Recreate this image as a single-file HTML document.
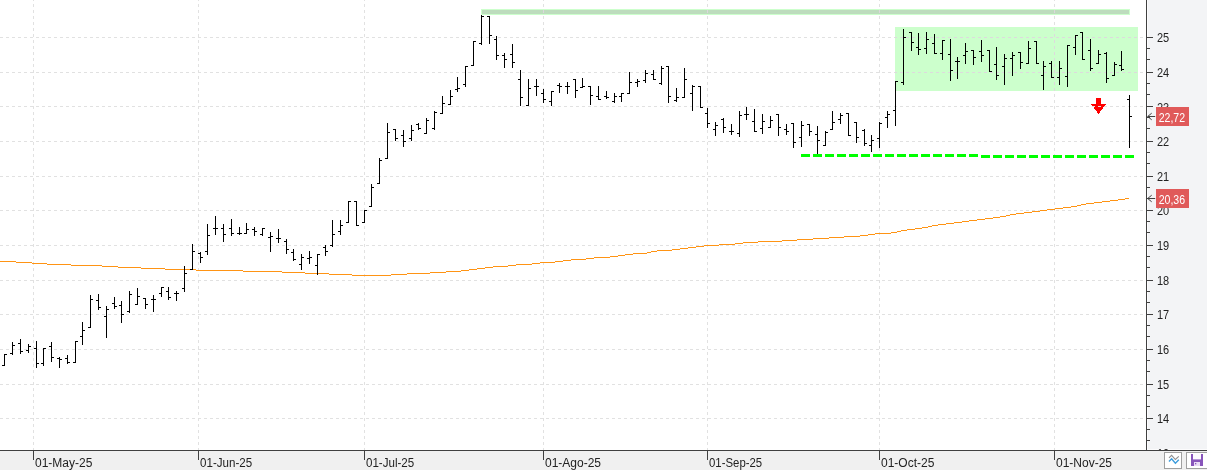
<!DOCTYPE html><html><head><meta charset="utf-8"><title>Chart</title>
<style>html,body{margin:0;padding:0;background:#fff;overflow:hidden}svg{display:block}text{font-family:"Liberation Sans",sans-serif}</style></head><body>
<svg width="1207" height="471" viewBox="0 0 1207 471">
<rect x="0" y="0" width="1207" height="471" fill="#ffffff"/>
<rect x="1147" y="0" width="60" height="450" fill="#f3f4f6"/>
<rect x="1147" y="0" width="1" height="450" fill="#fcfcfd"/><rect x="1147" y="449" width="60" height="1" fill="#fcfcfd"/>
<rect x="0" y="451" width="1207" height="19" fill="#f0f0f0"/>
<g stroke="#e1e1e1" stroke-width="1" stroke-dasharray="3 3" shape-rendering="crispEdges">
<line x1="0" y1="37.5" x2="1146" y2="37.5"/>
<line x1="0" y1="72.5" x2="1146" y2="72.5"/>
<line x1="0" y1="106.5" x2="1146" y2="106.5"/>
<line x1="0" y1="141.5" x2="1146" y2="141.5"/>
<line x1="0" y1="176.5" x2="1146" y2="176.5"/>
<line x1="0" y1="210.5" x2="1146" y2="210.5"/>
<line x1="0" y1="245.5" x2="1146" y2="245.5"/>
<line x1="0" y1="280.5" x2="1146" y2="280.5"/>
<line x1="0" y1="314.5" x2="1146" y2="314.5"/>
<line x1="0" y1="349.5" x2="1146" y2="349.5"/>
<line x1="0" y1="384.5" x2="1146" y2="384.5"/>
<line x1="0" y1="418.5" x2="1146" y2="418.5"/>
<line x1="33.5" y1="0" x2="33.5" y2="450" stroke-dashoffset="2"/>
<line x1="198.5" y1="0" x2="198.5" y2="450" stroke-dashoffset="2"/>
<line x1="364.5" y1="0" x2="364.5" y2="450" stroke-dashoffset="2"/>
<line x1="543.5" y1="0" x2="543.5" y2="450" stroke-dashoffset="2"/>
<line x1="707.5" y1="0" x2="707.5" y2="450" stroke-dashoffset="2"/>
<line x1="879.5" y1="0" x2="879.5" y2="450" stroke-dashoffset="2"/>
<line x1="1054.5" y1="0" x2="1054.5" y2="450" stroke-dashoffset="2"/>
</g>
<rect x="481" y="9" width="649" height="6" fill="#ccffcc" shape-rendering="crispEdges"/>
<rect x="482" y="10" width="647" height="4" fill="#bddcbd" shape-rendering="crispEdges"/>
<rect x="895" y="27" width="243" height="64" fill="#ccffcc"/>
<g stroke="#dddadd" stroke-width="1" stroke-dasharray="3 3" shape-rendering="crispEdges">
<line x1="895" y1="37.5" x2="897" y2="37.5" stroke-dasharray="none"/>
<line x1="900" y1="37.5" x2="1138" y2="37.5"/>
<line x1="895" y1="72.5" x2="897" y2="72.5" stroke-dasharray="none"/>
<line x1="900" y1="72.5" x2="1138" y2="72.5"/>
<line x1="1054.5" y1="28" x2="1054.5" y2="91"/>
<line x1="543.5" y1="10" x2="543.5" y2="13" stroke="#dcd6dc" stroke-dasharray="none"/>
<line x1="707.5" y1="10" x2="707.5" y2="13" stroke="#dcd6dc" stroke-dasharray="none"/>
<line x1="879.5" y1="10" x2="879.5" y2="13" stroke="#dcd6dc" stroke-dasharray="none"/>
<line x1="1054.5" y1="10" x2="1054.5" y2="13" stroke="#dcd6dc" stroke-dasharray="none"/>
</g>
<g stroke="#00ff00" stroke-width="3" stroke-dasharray="9 3" shape-rendering="crispEdges"><line x1="801" y1="155.5" x2="978" y2="155.5"/><line x1="981" y1="156.5" x2="1134" y2="156.5"/></g>
<path fill="none" stroke="#ff9414" stroke-width="1" shape-rendering="crispEdges" d="M0 261.5H16M16 262.5H32M32 263.5H47M47 264.5H71M71 265.5H102M102 266.5H118M118 267.5H141M141 268.5H165M165 269.5H196M196 270.5H243M243 271.5H282M282 272.5H305M305 273.5H329M329 274.5H352M352 275.5H391M391 274.5H407M407 273.5H430M430 272.5H446M446 271.5H461M461 270.5H469M469 269.5H477M477 268.5H485M485 267.5H493M493 266.5H508M508 265.5H516M516 264.5H532M532 263.5H540M540 262.5H555M555 261.5H563M563 260.5H571M571 259.5H586M586 258.5H594M594 257.5H610M610 256.5H618M618 255.5H625M625 254.5H633M633 253.5H647M647 252.5H651M651 251.5H657M657 250.5H672M672 249.5H680M680 248.5H688M688 247.5H696M696 246.5H704M704 245.5H719M719 244.5H735M735 243.5H743M743 242.5H758M758 241.5H782M782 240.5H797M797 239.5H813M813 238.5H829M829 237.5H844M844 236.5H860M860 235.5H868M868 234.5H875M875 233.5H891M891 232.5H897M897 231.5H901M901 230.5H907M907 229.5H915M915 228.5H922M922 227.5H928M928 226.5H932M932 225.5H938M938 224.5H946M946 223.5H954M954 222.5H962M962 221.5H969M969 220.5H977M977 219.5H985M985 218.5H993M993 217.5H1000M1000 216.5H1006M1006 215.5H1010M1010 214.5H1016M1016 213.5H1024M1024 212.5H1032M1032 211.5H1040M1040 210.5H1047M1047 209.5H1055M1055 208.5H1063M1063 207.5H1071M1071 206.5H1077M1077 205.5H1081M1081 204.5H1086M1086 203.5H1094M1094 202.5H1102M1102 201.5H1110M1110 200.5H1118M1118 199.5H1125M1125 198.5H1129"/>
<g fill="#000" shape-rendering="crispEdges">
<rect x="4" y="354" width="1" height="12"/>
<rect x="2" y="365" width="2" height="1"/>
<rect x="5" y="354" width="2" height="1"/>
<rect x="12" y="342" width="1" height="13"/>
<rect x="10" y="353" width="2" height="1"/>
<rect x="13" y="345" width="2" height="1"/>
<rect x="20" y="339" width="1" height="15"/>
<rect x="18" y="343" width="2" height="1"/>
<rect x="21" y="351" width="2" height="1"/>
<rect x="28" y="344" width="1" height="9"/>
<rect x="26" y="350" width="2" height="1"/>
<rect x="29" y="346" width="2" height="1"/>
<rect x="36" y="341" width="1" height="27"/>
<rect x="34" y="348" width="2" height="1"/>
<rect x="37" y="363" width="2" height="1"/>
<rect x="43" y="348" width="1" height="18"/>
<rect x="41" y="363" width="2" height="1"/>
<rect x="44" y="348" width="2" height="1"/>
<rect x="51" y="342" width="1" height="20"/>
<rect x="49" y="346" width="2" height="1"/>
<rect x="52" y="357" width="2" height="1"/>
<rect x="59" y="357" width="1" height="11"/>
<rect x="57" y="358" width="2" height="1"/>
<rect x="60" y="359" width="2" height="1"/>
<rect x="67" y="355" width="1" height="9"/>
<rect x="65" y="358" width="2" height="1"/>
<rect x="68" y="362" width="2" height="1"/>
<rect x="75" y="341" width="1" height="22"/>
<rect x="73" y="362" width="2" height="1"/>
<rect x="76" y="341" width="2" height="1"/>
<rect x="82" y="322" width="1" height="23"/>
<rect x="80" y="336" width="2" height="1"/>
<rect x="83" y="330" width="2" height="1"/>
<rect x="90" y="295" width="1" height="33"/>
<rect x="88" y="327" width="2" height="1"/>
<rect x="91" y="299" width="2" height="1"/>
<rect x="98" y="294" width="1" height="16"/>
<rect x="96" y="300" width="2" height="1"/>
<rect x="99" y="307" width="2" height="1"/>
<rect x="106" y="306" width="1" height="32"/>
<rect x="104" y="316" width="2" height="1"/>
<rect x="107" y="309" width="2" height="1"/>
<rect x="114" y="297" width="1" height="12"/>
<rect x="112" y="303" width="2" height="1"/>
<rect x="115" y="306" width="2" height="1"/>
<rect x="121" y="301" width="1" height="22"/>
<rect x="119" y="305" width="2" height="1"/>
<rect x="122" y="314" width="2" height="1"/>
<rect x="129" y="291" width="1" height="22"/>
<rect x="127" y="311" width="2" height="1"/>
<rect x="130" y="294" width="2" height="1"/>
<rect x="137" y="288" width="1" height="17"/>
<rect x="135" y="304" width="2" height="1"/>
<rect x="138" y="296" width="2" height="1"/>
<rect x="145" y="298" width="1" height="11"/>
<rect x="143" y="298" width="2" height="1"/>
<rect x="146" y="304" width="2" height="1"/>
<rect x="153" y="295" width="1" height="17"/>
<rect x="151" y="299" width="2" height="1"/>
<rect x="154" y="299" width="2" height="1"/>
<rect x="161" y="287" width="1" height="10"/>
<rect x="159" y="293" width="2" height="1"/>
<rect x="162" y="287" width="2" height="1"/>
<rect x="168" y="287" width="1" height="13"/>
<rect x="166" y="291" width="2" height="1"/>
<rect x="169" y="297" width="2" height="1"/>
<rect x="176" y="291" width="1" height="10"/>
<rect x="174" y="293" width="2" height="1"/>
<rect x="177" y="293" width="2" height="1"/>
<rect x="184" y="266" width="1" height="26"/>
<rect x="182" y="288" width="2" height="1"/>
<rect x="185" y="273" width="2" height="1"/>
<rect x="192" y="244" width="1" height="26"/>
<rect x="190" y="269" width="2" height="1"/>
<rect x="193" y="251" width="2" height="1"/>
<rect x="200" y="252" width="1" height="11"/>
<rect x="198" y="253" width="2" height="1"/>
<rect x="201" y="257" width="2" height="1"/>
<rect x="207" y="224" width="1" height="31"/>
<rect x="205" y="251" width="2" height="1"/>
<rect x="208" y="235" width="2" height="1"/>
<rect x="215" y="216" width="1" height="19"/>
<rect x="213" y="228" width="2" height="1"/>
<rect x="216" y="228" width="2" height="1"/>
<rect x="223" y="224" width="1" height="18"/>
<rect x="221" y="228" width="2" height="1"/>
<rect x="224" y="234" width="2" height="1"/>
<rect x="231" y="219" width="1" height="17"/>
<rect x="229" y="228" width="2" height="1"/>
<rect x="232" y="233" width="2" height="1"/>
<rect x="239" y="227" width="1" height="8"/>
<rect x="237" y="233" width="2" height="1"/>
<rect x="240" y="233" width="2" height="1"/>
<rect x="246" y="223" width="1" height="11"/>
<rect x="244" y="233" width="2" height="1"/>
<rect x="247" y="229" width="2" height="1"/>
<rect x="254" y="227" width="1" height="9"/>
<rect x="252" y="229" width="2" height="1"/>
<rect x="255" y="231" width="2" height="1"/>
<rect x="262" y="228" width="1" height="8"/>
<rect x="260" y="234" width="2" height="1"/>
<rect x="263" y="228" width="2" height="1"/>
<rect x="270" y="232" width="1" height="20"/>
<rect x="268" y="237" width="2" height="1"/>
<rect x="271" y="236" width="2" height="1"/>
<rect x="278" y="229" width="1" height="14"/>
<rect x="276" y="238" width="2" height="1"/>
<rect x="279" y="238" width="2" height="1"/>
<rect x="286" y="239" width="1" height="15"/>
<rect x="284" y="241" width="2" height="1"/>
<rect x="287" y="249" width="2" height="1"/>
<rect x="293" y="249" width="1" height="12"/>
<rect x="291" y="252" width="2" height="1"/>
<rect x="294" y="259" width="2" height="1"/>
<rect x="301" y="254" width="1" height="16"/>
<rect x="299" y="264" width="2" height="1"/>
<rect x="302" y="257" width="2" height="1"/>
<rect x="309" y="251" width="1" height="13"/>
<rect x="307" y="258" width="2" height="1"/>
<rect x="310" y="257" width="2" height="1"/>
<rect x="317" y="254" width="1" height="21"/>
<rect x="315" y="265" width="2" height="1"/>
<rect x="318" y="254" width="2" height="1"/>
<rect x="325" y="245" width="1" height="11"/>
<rect x="323" y="247" width="2" height="1"/>
<rect x="326" y="251" width="2" height="1"/>
<rect x="332" y="220" width="1" height="27"/>
<rect x="330" y="245" width="2" height="1"/>
<rect x="333" y="234" width="2" height="1"/>
<rect x="340" y="220" width="1" height="15"/>
<rect x="338" y="231" width="2" height="1"/>
<rect x="341" y="225" width="2" height="1"/>
<rect x="348" y="201" width="1" height="22"/>
<rect x="346" y="222" width="2" height="1"/>
<rect x="349" y="201" width="2" height="1"/>
<rect x="356" y="201" width="1" height="25"/>
<rect x="354" y="201" width="2" height="1"/>
<rect x="357" y="225" width="2" height="1"/>
<rect x="364" y="210" width="1" height="13"/>
<rect x="362" y="222" width="2" height="1"/>
<rect x="365" y="210" width="2" height="1"/>
<rect x="371" y="184" width="1" height="23"/>
<rect x="369" y="206" width="2" height="1"/>
<rect x="372" y="187" width="2" height="1"/>
<rect x="379" y="158" width="1" height="26"/>
<rect x="377" y="183" width="2" height="1"/>
<rect x="380" y="160" width="2" height="1"/>
<rect x="387" y="123" width="1" height="36"/>
<rect x="385" y="158" width="2" height="1"/>
<rect x="388" y="132" width="2" height="1"/>
<rect x="395" y="129" width="1" height="12"/>
<rect x="393" y="129" width="2" height="1"/>
<rect x="396" y="138" width="2" height="1"/>
<rect x="403" y="130" width="1" height="17"/>
<rect x="401" y="135" width="2" height="1"/>
<rect x="404" y="141" width="2" height="1"/>
<rect x="411" y="125" width="1" height="16"/>
<rect x="409" y="138" width="2" height="1"/>
<rect x="412" y="130" width="2" height="1"/>
<rect x="418" y="123" width="1" height="7"/>
<rect x="416" y="124" width="2" height="1"/>
<rect x="419" y="128" width="2" height="1"/>
<rect x="426" y="118" width="1" height="16"/>
<rect x="424" y="133" width="2" height="1"/>
<rect x="427" y="120" width="2" height="1"/>
<rect x="434" y="111" width="1" height="19"/>
<rect x="432" y="128" width="2" height="1"/>
<rect x="435" y="112" width="2" height="1"/>
<rect x="442" y="96" width="1" height="18"/>
<rect x="440" y="113" width="2" height="1"/>
<rect x="443" y="103" width="2" height="1"/>
<rect x="450" y="90" width="1" height="15"/>
<rect x="448" y="104" width="2" height="1"/>
<rect x="451" y="96" width="2" height="1"/>
<rect x="457" y="77" width="1" height="15"/>
<rect x="455" y="89" width="2" height="1"/>
<rect x="458" y="88" width="2" height="1"/>
<rect x="465" y="66" width="1" height="21"/>
<rect x="463" y="84" width="2" height="1"/>
<rect x="466" y="66" width="2" height="1"/>
<rect x="473" y="41" width="1" height="25"/>
<rect x="471" y="65" width="2" height="1"/>
<rect x="474" y="41" width="2" height="1"/>
<rect x="481" y="15" width="1" height="30"/>
<rect x="479" y="43" width="2" height="1"/>
<rect x="482" y="16" width="2" height="1"/>
<rect x="489" y="16" width="1" height="28"/>
<rect x="487" y="16" width="2" height="1"/>
<rect x="490" y="35" width="2" height="1"/>
<rect x="496" y="36" width="1" height="24"/>
<rect x="494" y="39" width="2" height="1"/>
<rect x="497" y="55" width="2" height="1"/>
<rect x="504" y="53" width="1" height="15"/>
<rect x="502" y="55" width="2" height="1"/>
<rect x="505" y="59" width="2" height="1"/>
<rect x="512" y="44" width="1" height="24"/>
<rect x="510" y="54" width="2" height="1"/>
<rect x="513" y="62" width="2" height="1"/>
<rect x="520" y="70" width="1" height="36"/>
<rect x="518" y="79" width="2" height="1"/>
<rect x="521" y="97" width="2" height="1"/>
<rect x="528" y="79" width="1" height="27"/>
<rect x="526" y="105" width="2" height="1"/>
<rect x="529" y="88" width="2" height="1"/>
<rect x="536" y="79" width="1" height="17"/>
<rect x="534" y="86" width="2" height="1"/>
<rect x="537" y="86" width="2" height="1"/>
<rect x="543" y="89" width="1" height="14"/>
<rect x="541" y="93" width="2" height="1"/>
<rect x="544" y="99" width="2" height="1"/>
<rect x="551" y="91" width="1" height="15"/>
<rect x="549" y="101" width="2" height="1"/>
<rect x="552" y="91" width="2" height="1"/>
<rect x="559" y="83" width="1" height="10"/>
<rect x="557" y="85" width="2" height="1"/>
<rect x="560" y="86" width="2" height="1"/>
<rect x="567" y="82" width="1" height="12"/>
<rect x="565" y="86" width="2" height="1"/>
<rect x="568" y="86" width="2" height="1"/>
<rect x="575" y="79" width="1" height="19"/>
<rect x="573" y="79" width="2" height="1"/>
<rect x="576" y="90" width="2" height="1"/>
<rect x="582" y="78" width="1" height="10"/>
<rect x="580" y="87" width="2" height="1"/>
<rect x="583" y="86" width="2" height="1"/>
<rect x="590" y="86" width="1" height="19"/>
<rect x="588" y="86" width="2" height="1"/>
<rect x="591" y="95" width="2" height="1"/>
<rect x="598" y="86" width="1" height="14"/>
<rect x="596" y="96" width="2" height="1"/>
<rect x="599" y="99" width="2" height="1"/>
<rect x="606" y="91" width="1" height="8"/>
<rect x="604" y="96" width="2" height="1"/>
<rect x="607" y="97" width="2" height="1"/>
<rect x="614" y="93" width="1" height="10"/>
<rect x="612" y="101" width="2" height="1"/>
<rect x="615" y="96" width="2" height="1"/>
<rect x="621" y="93" width="1" height="9"/>
<rect x="619" y="96" width="2" height="1"/>
<rect x="622" y="93" width="2" height="1"/>
<rect x="629" y="72" width="1" height="22"/>
<rect x="627" y="93" width="2" height="1"/>
<rect x="630" y="82" width="2" height="1"/>
<rect x="637" y="79" width="1" height="8"/>
<rect x="635" y="82" width="2" height="1"/>
<rect x="638" y="81" width="2" height="1"/>
<rect x="645" y="70" width="1" height="13"/>
<rect x="643" y="80" width="2" height="1"/>
<rect x="646" y="73" width="2" height="1"/>
<rect x="653" y="70" width="1" height="10"/>
<rect x="651" y="74" width="2" height="1"/>
<rect x="654" y="79" width="2" height="1"/>
<rect x="661" y="66" width="1" height="19"/>
<rect x="659" y="83" width="2" height="1"/>
<rect x="662" y="68" width="2" height="1"/>
<rect x="668" y="66" width="1" height="37"/>
<rect x="666" y="66" width="2" height="1"/>
<rect x="669" y="96" width="2" height="1"/>
<rect x="676" y="88" width="1" height="14"/>
<rect x="674" y="100" width="2" height="1"/>
<rect x="677" y="97" width="2" height="1"/>
<rect x="684" y="68" width="1" height="30"/>
<rect x="682" y="97" width="2" height="1"/>
<rect x="685" y="79" width="2" height="1"/>
<rect x="692" y="85" width="1" height="26"/>
<rect x="690" y="93" width="2" height="1"/>
<rect x="693" y="86" width="2" height="1"/>
<rect x="700" y="86" width="1" height="22"/>
<rect x="698" y="86" width="2" height="1"/>
<rect x="701" y="107" width="2" height="1"/>
<rect x="707" y="108" width="1" height="20"/>
<rect x="705" y="113" width="2" height="1"/>
<rect x="708" y="123" width="2" height="1"/>
<rect x="715" y="122" width="1" height="14"/>
<rect x="713" y="129" width="2" height="1"/>
<rect x="716" y="125" width="2" height="1"/>
<rect x="723" y="118" width="1" height="15"/>
<rect x="721" y="119" width="2" height="1"/>
<rect x="724" y="127" width="2" height="1"/>
<rect x="731" y="124" width="1" height="11"/>
<rect x="729" y="131" width="2" height="1"/>
<rect x="732" y="131" width="2" height="1"/>
<rect x="739" y="111" width="1" height="26"/>
<rect x="737" y="133" width="2" height="1"/>
<rect x="740" y="115" width="2" height="1"/>
<rect x="746" y="107" width="1" height="13"/>
<rect x="744" y="114" width="2" height="1"/>
<rect x="747" y="114" width="2" height="1"/>
<rect x="754" y="109" width="1" height="23"/>
<rect x="752" y="121" width="2" height="1"/>
<rect x="755" y="131" width="2" height="1"/>
<rect x="762" y="114" width="1" height="20"/>
<rect x="760" y="128" width="2" height="1"/>
<rect x="763" y="121" width="2" height="1"/>
<rect x="770" y="116" width="1" height="12"/>
<rect x="768" y="127" width="2" height="1"/>
<rect x="771" y="120" width="2" height="1"/>
<rect x="778" y="114" width="1" height="22"/>
<rect x="776" y="114" width="2" height="1"/>
<rect x="779" y="127" width="2" height="1"/>
<rect x="786" y="124" width="1" height="11"/>
<rect x="784" y="129" width="2" height="1"/>
<rect x="787" y="131" width="2" height="1"/>
<rect x="793" y="123" width="1" height="25"/>
<rect x="791" y="123" width="2" height="1"/>
<rect x="794" y="142" width="2" height="1"/>
<rect x="801" y="121" width="1" height="26"/>
<rect x="799" y="137" width="2" height="1"/>
<rect x="802" y="125" width="2" height="1"/>
<rect x="809" y="124" width="1" height="12"/>
<rect x="807" y="124" width="2" height="1"/>
<rect x="810" y="131" width="2" height="1"/>
<rect x="817" y="126" width="1" height="28"/>
<rect x="815" y="134" width="2" height="1"/>
<rect x="818" y="140" width="2" height="1"/>
<rect x="825" y="131" width="1" height="15"/>
<rect x="823" y="145" width="2" height="1"/>
<rect x="826" y="132" width="2" height="1"/>
<rect x="832" y="111" width="1" height="19"/>
<rect x="830" y="129" width="2" height="1"/>
<rect x="833" y="122" width="2" height="1"/>
<rect x="840" y="113" width="1" height="11"/>
<rect x="838" y="119" width="2" height="1"/>
<rect x="841" y="115" width="2" height="1"/>
<rect x="848" y="113" width="1" height="23"/>
<rect x="846" y="113" width="2" height="1"/>
<rect x="849" y="135" width="2" height="1"/>
<rect x="856" y="122" width="1" height="21"/>
<rect x="854" y="122" width="2" height="1"/>
<rect x="857" y="137" width="2" height="1"/>
<rect x="864" y="129" width="1" height="17"/>
<rect x="862" y="130" width="2" height="1"/>
<rect x="865" y="143" width="2" height="1"/>
<rect x="871" y="135" width="1" height="17"/>
<rect x="869" y="145" width="2" height="1"/>
<rect x="872" y="140" width="2" height="1"/>
<rect x="879" y="122" width="1" height="26"/>
<rect x="877" y="138" width="2" height="1"/>
<rect x="880" y="123" width="2" height="1"/>
<rect x="887" y="111" width="1" height="17"/>
<rect x="885" y="117" width="2" height="1"/>
<rect x="888" y="114" width="2" height="1"/>
<rect x="895" y="81" width="1" height="45"/>
<rect x="893" y="110" width="2" height="1"/>
<rect x="896" y="81" width="2" height="1"/>
<rect x="903" y="29" width="1" height="56"/>
<rect x="901" y="82" width="2" height="1"/>
<rect x="904" y="37" width="2" height="1"/>
<rect x="911" y="32" width="1" height="19"/>
<rect x="909" y="32" width="2" height="1"/>
<rect x="912" y="42" width="2" height="1"/>
<rect x="918" y="33" width="1" height="22"/>
<rect x="916" y="47" width="2" height="1"/>
<rect x="919" y="49" width="2" height="1"/>
<rect x="926" y="32" width="1" height="22"/>
<rect x="924" y="48" width="2" height="1"/>
<rect x="927" y="39" width="2" height="1"/>
<rect x="934" y="34" width="1" height="20"/>
<rect x="932" y="43" width="2" height="1"/>
<rect x="935" y="53" width="2" height="1"/>
<rect x="942" y="40" width="1" height="20"/>
<rect x="940" y="53" width="2" height="1"/>
<rect x="943" y="40" width="2" height="1"/>
<rect x="950" y="39" width="1" height="42"/>
<rect x="948" y="54" width="2" height="1"/>
<rect x="951" y="70" width="2" height="1"/>
<rect x="957" y="57" width="1" height="22"/>
<rect x="955" y="61" width="2" height="1"/>
<rect x="958" y="61" width="2" height="1"/>
<rect x="965" y="43" width="1" height="21"/>
<rect x="963" y="55" width="2" height="1"/>
<rect x="966" y="51" width="2" height="1"/>
<rect x="973" y="50" width="1" height="15"/>
<rect x="971" y="50" width="2" height="1"/>
<rect x="974" y="57" width="2" height="1"/>
<rect x="981" y="40" width="1" height="22"/>
<rect x="979" y="51" width="2" height="1"/>
<rect x="982" y="55" width="2" height="1"/>
<rect x="989" y="50" width="1" height="22"/>
<rect x="987" y="50" width="2" height="1"/>
<rect x="990" y="71" width="2" height="1"/>
<rect x="996" y="47" width="1" height="33"/>
<rect x="994" y="64" width="2" height="1"/>
<rect x="997" y="75" width="2" height="1"/>
<rect x="1004" y="54" width="1" height="31"/>
<rect x="1002" y="66" width="2" height="1"/>
<rect x="1005" y="58" width="2" height="1"/>
<rect x="1012" y="52" width="1" height="24"/>
<rect x="1010" y="58" width="2" height="1"/>
<rect x="1013" y="55" width="2" height="1"/>
<rect x="1020" y="52" width="1" height="17"/>
<rect x="1018" y="52" width="2" height="1"/>
<rect x="1021" y="62" width="2" height="1"/>
<rect x="1028" y="41" width="1" height="23"/>
<rect x="1026" y="63" width="2" height="1"/>
<rect x="1029" y="48" width="2" height="1"/>
<rect x="1036" y="41" width="1" height="23"/>
<rect x="1034" y="41" width="2" height="1"/>
<rect x="1037" y="63" width="2" height="1"/>
<rect x="1043" y="61" width="1" height="29"/>
<rect x="1041" y="75" width="2" height="1"/>
<rect x="1044" y="66" width="2" height="1"/>
<rect x="1051" y="61" width="1" height="17"/>
<rect x="1049" y="63" width="2" height="1"/>
<rect x="1052" y="77" width="2" height="1"/>
<rect x="1059" y="61" width="1" height="24"/>
<rect x="1057" y="77" width="2" height="1"/>
<rect x="1060" y="68" width="2" height="1"/>
<rect x="1067" y="45" width="1" height="42"/>
<rect x="1065" y="76" width="2" height="1"/>
<rect x="1068" y="45" width="2" height="1"/>
<rect x="1075" y="35" width="1" height="20"/>
<rect x="1073" y="47" width="2" height="1"/>
<rect x="1076" y="35" width="2" height="1"/>
<rect x="1082" y="32" width="1" height="28"/>
<rect x="1080" y="32" width="2" height="1"/>
<rect x="1083" y="59" width="2" height="1"/>
<rect x="1090" y="39" width="1" height="32"/>
<rect x="1088" y="50" width="2" height="1"/>
<rect x="1091" y="68" width="2" height="1"/>
<rect x="1098" y="50" width="1" height="14"/>
<rect x="1096" y="63" width="2" height="1"/>
<rect x="1099" y="54" width="2" height="1"/>
<rect x="1106" y="52" width="1" height="31"/>
<rect x="1104" y="53" width="2" height="1"/>
<rect x="1107" y="78" width="2" height="1"/>
<rect x="1114" y="62" width="1" height="14"/>
<rect x="1112" y="75" width="2" height="1"/>
<rect x="1115" y="64" width="2" height="1"/>
<rect x="1121" y="51" width="1" height="20"/>
<rect x="1119" y="65" width="2" height="1"/>
<rect x="1122" y="69" width="2" height="1"/>
<rect x="1129" y="95" width="1" height="53"/>
<rect x="1127" y="99" width="2" height="1"/>
<rect x="1130" y="116" width="2" height="1"/>
</g>
<path d="M1096 98h5v6h5l-7.5 10l-7.5-10h5z" fill="#ff0000" shape-rendering="crispEdges"/>
<rect x="1092" y="106" width="3" height="1" fill="#e4e4e4"/><rect x="1098" y="106" width="3" height="1" fill="#e4e4e4"/>
<g fill="#404040" shape-rendering="crispEdges">
<rect x="1146" y="0" width="1" height="451"/>
<rect x="0" y="450" width="1207" height="1"/>
<rect x="1147" y="37" width="6" height="1"/>
<rect x="1147" y="48" width="3" height="1"/>
<rect x="1147" y="59" width="3" height="1"/>
<rect x="1147" y="72" width="6" height="1"/>
<rect x="1147" y="83" width="3" height="1"/>
<rect x="1147" y="94" width="3" height="1"/>
<rect x="1147" y="106" width="6" height="1"/>
<rect x="1147" y="117" width="3" height="1"/>
<rect x="1147" y="128" width="3" height="1"/>
<rect x="1147" y="141" width="6" height="1"/>
<rect x="1147" y="152" width="3" height="1"/>
<rect x="1147" y="163" width="3" height="1"/>
<rect x="1147" y="176" width="6" height="1"/>
<rect x="1147" y="187" width="3" height="1"/>
<rect x="1147" y="198" width="3" height="1"/>
<rect x="1147" y="210" width="6" height="1"/>
<rect x="1147" y="221" width="3" height="1"/>
<rect x="1147" y="232" width="3" height="1"/>
<rect x="1147" y="245" width="6" height="1"/>
<rect x="1147" y="256" width="3" height="1"/>
<rect x="1147" y="267" width="3" height="1"/>
<rect x="1147" y="280" width="6" height="1"/>
<rect x="1147" y="291" width="3" height="1"/>
<rect x="1147" y="302" width="3" height="1"/>
<rect x="1147" y="314" width="6" height="1"/>
<rect x="1147" y="325" width="3" height="1"/>
<rect x="1147" y="336" width="3" height="1"/>
<rect x="1147" y="349" width="6" height="1"/>
<rect x="1147" y="360" width="3" height="1"/>
<rect x="1147" y="371" width="3" height="1"/>
<rect x="1147" y="384" width="6" height="1"/>
<rect x="1147" y="395" width="3" height="1"/>
<rect x="1147" y="406" width="3" height="1"/>
<rect x="1147" y="418" width="6" height="1"/>
<rect x="1147" y="429" width="3" height="1"/>
<rect x="1147" y="440" width="3" height="1"/>
<rect x="33" y="451" width="1" height="9"/>
<rect x="198" y="451" width="1" height="9"/>
<rect x="364" y="451" width="1" height="9"/>
<rect x="543" y="451" width="1" height="9"/>
<rect x="707" y="451" width="1" height="9"/>
<rect x="879" y="451" width="1" height="9"/>
<rect x="1054" y="451" width="1" height="9"/>
</g>
<g font-size="12.5px" fill="#222">
<text transform="translate(1157 42.2) scale(0.88 1)">25</text>
<text transform="translate(1157 76.8) scale(0.88 1)">24</text>
<text transform="translate(1157 111.5) scale(0.88 1)">23</text>
<text transform="translate(1157 146.1) scale(0.88 1)">22</text>
<text transform="translate(1157 180.8) scale(0.88 1)">21</text>
<text transform="translate(1157 215.4) scale(0.88 1)">20</text>
<text transform="translate(1157 250.0) scale(0.88 1)">19</text>
<text transform="translate(1157 284.7) scale(0.88 1)">18</text>
<text transform="translate(1157 319.3) scale(0.88 1)">17</text>
<text transform="translate(1157 354.0) scale(0.88 1)">16</text>
<text transform="translate(1157 388.6) scale(0.88 1)">15</text>
<text transform="translate(1157 423.2) scale(0.88 1)">14</text>
<clipPath id="c13"><rect x="1147" y="440" width="60" height="10"/></clipPath>
<g clip-path="url(#c13)"><text transform="translate(1157 457.9) scale(0.88 1)">13</text></g>
</g>
<g font-size="12px" fill="#222">
<text transform="translate(35 466.5) scale(1 1)">01-May-25</text>
<text transform="translate(200 466.5) scale(0.966 1)">01-Jun-25</text>
<text transform="translate(366 466.5) scale(0.965 1)">01-Jul-25</text>
<text transform="translate(545 466.5) scale(1 1)">01-Ago-25</text>
<text transform="translate(709 466.5) scale(0.95 1)">01-Sep-25</text>
<text transform="translate(881 466.5) scale(1 1)">01-Oct-25</text>
<text transform="translate(1056 466.5) scale(1 1)">01-Nov-25</text>
</g>
<rect x="1156" y="107.0" width="33" height="19" fill="#e05a5a"/>
<text transform="translate(1158.7 121.7) scale(0.88 1)" font-size="12px" fill="#fff">22,72</text>
<path d="M1147.7 116.5h7.5M1151.7 113.2l-4 3.3l4 3.3" fill="none" stroke="#404040" stroke-width="1"/>
<rect x="1156" y="189.0" width="33" height="19" fill="#e05a5a"/>
<text transform="translate(1158.7 203.7) scale(0.88 1)" font-size="12px" fill="#fff">20,36</text>
<path d="M1147.7 198.5h7.5M1151.7 195.2l-4 3.3l4 3.3" fill="none" stroke="#404040" stroke-width="1"/>
<rect x="1164.5" y="452.5" width="17" height="16" fill="#fff" stroke="#a0a0a0"/>
<path d="M1169 457.9l2.6-2.6l3.8 4.2l3.4-3.2" fill="none" stroke="#909090" stroke-width="1.1"/>
<path d="M1169 461.4l2.6-2.6l3.8 4.4l3.4-3.4" fill="none" stroke="#3c9cdc" stroke-width="1.4"/>
<rect x="1186.5" y="452.5" width="22" height="16" fill="#fff" stroke="#a0a0a0"/>
<path d="M1191 454h12v12h-12z" fill="#8855bb"/><rect x="1193" y="454" width="8" height="5.4" fill="#fdfbff"/><rect x="1194" y="462" width="6" height="4" fill="#eadcf6"/><rect x="1195" y="463" width="1.3" height="1.3" fill="#8855bb"/>
</svg></body></html>
